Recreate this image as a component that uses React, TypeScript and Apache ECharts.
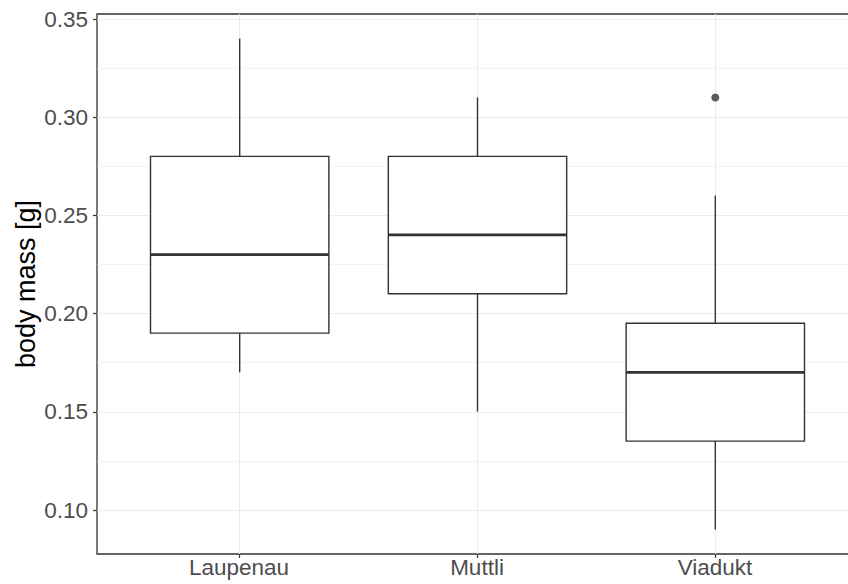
import React, { useEffect, useRef } from "react";
import * as echarts from "echarts";

const categories = ["Laupenau", "Muttli", "Viadukt"];
const whiskerLow = [0.17, 0.15, 0.09];
const quartile1 = [0.19, 0.21, 0.135];
const medians = [0.23, 0.24, 0.17];
const quartile3 = [0.28, 0.28, 0.195];
const whiskerHigh = [0.34, 0.31, 0.26];
const outliers = [[2, 0.31]];
const yTickMin = 0.1;
const yTickMax = 0.35;
const yTickStep = 0.05;
const yPanelMin = 0.0775;
const yPanelMax = 0.3525;

const FONT = "'Liberation Sans', Arial, Helvetica, sans-serif";
const DARK = "#333333";
const GRIDC = "#EBEBEB";

export default function App() {
  const ref = useRef<HTMLDivElement>(null);
  useEffect(() => {
    if (!ref.current) return;
    const chart = echarts.init(ref.current, null, { renderer: "svg" });
    const boxData = categories.map((_, i) => [
      i,
      whiskerLow[i],
      quartile1[i],
      medians[i],
      quartile3[i],
      whiskerHigh[i],
    ]);
    const gridBase = { containLabel: false, outerBoundsMode: "none" };
    const option: any = {
      animation: false,
      backgroundColor: "#ffffff",
      textStyle: { fontFamily: FONT },
      grid: [
        // panel (border + series)
        { ...gridBase, left: 97, top: 14, width: 761, height: 540, show: true, borderColor: DARK, borderWidth: 1.3, backgroundColor: "transparent" },
        // x ticks / labels / vertical grid
        { ...gridBase, left: 239, top: 14, width: 476, height: 540 },
        // y ticks / labels / horizontal grid
        { ...gridBase, left: 97, top: 19, width: 761, height: 491 },
      ],
      xAxis: [
        { gridIndex: 0, type: "value", min: -0.6, max: 2.6, show: false, axisLine: { onZero: false } },
        {
          gridIndex: 1,
          type: "category",
          data: categories,
          boundaryGap: false,
          axisLine: { show: false, onZero: false },
          axisTick: { show: true, length: 4, lineStyle: { color: DARK, width: 1.2 } },
          axisLabel: { margin: 2, fontSize: 22.5, color: "#4D4D4D", fontFamily: FONT },
          splitLine: { show: true, lineStyle: { color: GRIDC, width: 1.1 } },
        },
        { gridIndex: 2, type: "value", min: -0.6, max: 2.6, show: false, axisLine: { onZero: false } },
      ],
      yAxis: [
        {
          gridIndex: 0,
          type: "value",
          min: yPanelMin,
          max: yPanelMax,
          show: true,
          axisLine: { show: false, onZero: false },
          axisTick: { show: false },
          axisLabel: { show: false },
          splitLine: { show: false },
          name: "body mass [g]",
          nameLocation: "middle",
          nameGap: 58,
          nameTextStyle: { fontSize: 27, color: "#000000", fontFamily: FONT },
        },
        { gridIndex: 1, type: "value", min: 0, max: 1, show: false, axisLine: { onZero: false } },
        {
          gridIndex: 2,
          type: "value",
          min: yTickMin,
          max: yTickMax,
          interval: yTickStep,
          axisLine: { show: false, onZero: false },
          axisTick: { show: true, length: 4, lineStyle: { color: DARK, width: 1.2 } },
          axisLabel: {
            margin: 9,
            fontSize: 22.5,
            color: "#4D4D4D",
            fontFamily: FONT,
            formatter: (v: number) => v.toFixed(2),
          },
          splitLine: { show: true, lineStyle: { color: GRIDC, width: 1.1 } },
          minorTick: { show: false, splitNumber: 2 },
          minorSplitLine: { show: true, lineStyle: { color: GRIDC, width: 0.6 } },
        },
      ],
      series: [
        {
          type: "custom",
          xAxisIndex: 0,
          yAxisIndex: 0,
          data: boxData,
          encode: { x: 0, y: [1, 2, 3, 4, 5] },
          z: 3,
          renderItem: (params: any, api: any) => {
            const i = api.value(0);
            const lo = api.coord([i, api.value(1)]);
            const b1 = api.coord([i, api.value(2)]);
            const md = api.coord([i, api.value(3)]);
            const b3 = api.coord([i, api.value(4)]);
            const hi = api.coord([i, api.value(5)]);
            const half = api.size([0.75, 0])[0] / 2;
            const x = md[0];
            const lw = 1.4;
            return {
              type: "group",
              children: [
                { type: "line", shape: { x1: x, y1: hi[1], x2: x, y2: b3[1] }, style: { stroke: DARK, lineWidth: lw } },
                { type: "line", shape: { x1: x, y1: b1[1], x2: x, y2: lo[1] }, style: { stroke: DARK, lineWidth: lw } },
                { type: "rect", shape: { x: x - half, y: b3[1], width: 2 * half, height: b1[1] - b3[1] }, style: { fill: "#ffffff", stroke: DARK, lineWidth: lw } },
                { type: "line", shape: { x1: x - half, y1: md[1], x2: x + half, y2: md[1] }, style: { stroke: DARK, lineWidth: 2.8 } },
              ],
            };
          },
        },
        {
          type: "scatter",
          xAxisIndex: 0,
          yAxisIndex: 0,
          data: outliers,
          symbol: "circle",
          symbolSize: 8,
          itemStyle: { color: DARK },
          z: 4,
        },
      ],
    };
    chart.setOption(option);
    return () => chart.dispose();
  }, []);
  return <div ref={ref} style={{ position: "absolute", left: 0, top: 0, width: 848, height: 584 }} />;
}
